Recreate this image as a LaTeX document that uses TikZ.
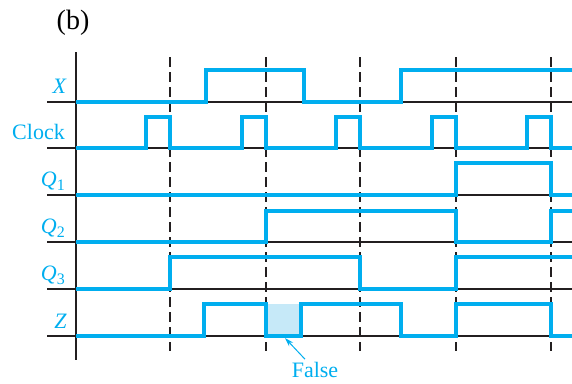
\documentclass[tikz,border=0pt]{standalone}
\usepackage{fontspec}
\setmainfont{Liberation Serif}
\usetikzlibrary{arrows.meta}
\definecolor{sigblue}{HTML}{00AEEF}
\definecolor{falsefill}{HTML}{C6E9F8}
\definecolor{ink}{HTML}{231F20}
\newcommand\sigsub[2]{\textit{#1}\raisebox{-0.22em}{\fontsize{16}{16}\selectfont #2}}
\begin{document}
\begin{tikzpicture}[x=1pt,y=-1pt,>={Stealth[length=9pt,width=5.5pt]},
  font=\fontsize{22}{26}\selectfont,
  wave/.style={sigblue,line width=3.2pt},
  lbl/.style={sigblue,anchor=base east,inner sep=0pt}]
  \useasboundingbox (0,0) rectangle (572,383);
  % false high on Z
  \fill[falsefill] (266,304) rectangle (301,336);
  % baselines
  \foreach \y in {102,148,195,242,289,336}
    \draw[ink,line width=1.2pt] (47,\y) -- (572,\y);
  % axis
  \draw[ink,line width=1.3pt] (76,52) -- (76,360);
  % clock edges
  \foreach \x in {170,266,360,456,551}
    \draw[ink,line width=1.1pt,dash pattern=on 10pt off 5pt] (\x,57) -- (\x,351);
  % waveforms
  \draw[wave] (76,102) -- (206,102) -- (206,70) -- (304,70) -- (304,102)
    -- (401,102) -- (401,70) -- (572,70);
  \draw[wave] (76,148)
    \foreach \x in {170,266,360,456,551} { -- (\x-24,148) -- (\x-24,117) -- (\x,117) -- (\x,148) }
    -- (572,148);
  \draw[wave] (76,195) -- (456,195) -- (456,163) -- (551,163) -- (551,195) -- (572,195);
  \draw[wave] (76,242) -- (266,242) -- (266,211) -- (456,211) -- (456,242)
    -- (551,242) -- (551,211) -- (572,211);
  \draw[wave] (76,289) -- (170,289) -- (170,257) -- (360,257) -- (360,289)
    -- (456,289) -- (456,257) -- (572,257);
  \draw[wave] (76,336) -- (204,336) -- (204,304) -- (266,304) -- (266,336)
    -- (301,336) -- (301,304) -- (401,304) -- (401,336) -- (456,336)
    -- (456,304) -- (551,304) -- (551,336) -- (572,336);
  % labels
  \node[anchor=base] (title) at (73,29) {\fontsize{28}{30}\selectfont(b)};
  \node[lbl] (lX) at (67,93) {\textit{X}};
  \node[lbl] (lClock) at (65,139) {Clock};
  \node[lbl] (lQa) at (65,186) {\sigsub{Q}{1}};
  \node[lbl] (lQb) at (65,233) {\sigsub{Q}{2}};
  \node[lbl] (lQc) at (65,280) {\sigsub{Q}{3}};
  \node[lbl] (lZ) at (67,328) {\textit{Z}};
  % false output pointer
  \node[sigblue,anchor=base] (lFalse) at (315,377) {False};
  \coordinate (glitch) at (285,338);
  \draw[sigblue,line width=1pt,->] ([xshift=-10pt,yshift=-1pt]lFalse.north) -- (glitch);
\end{tikzpicture}
\end{document}
